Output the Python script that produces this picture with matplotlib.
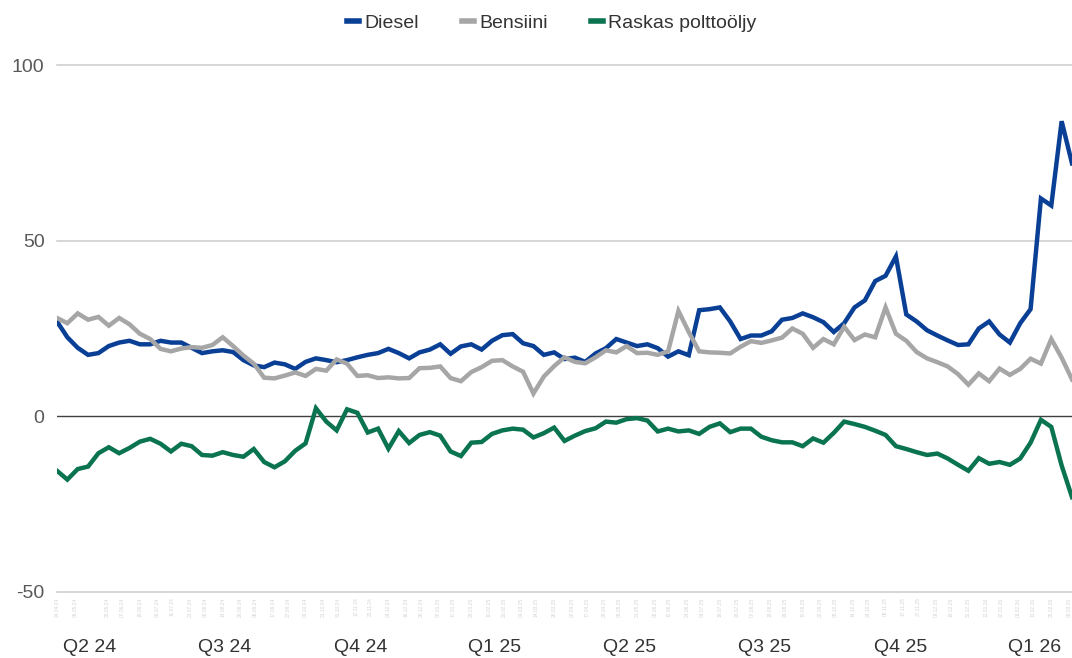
import pandas as pd
import matplotlib
matplotlib.use("Agg")
import matplotlib.pyplot as plt
from matplotlib.lines import Line2D

plt.rcParams['font.family'] = ['Liberation Sans', 'DejaVu Sans']

# weekly readings, late Apr 2024 -> mid Mar 2026
dates = pd.date_range('2024-04-24', periods=99, freq='7D')

diesel = [27, 22.5, 19.5, 17.5, 18, 20, 21, 21.5, 20.5, 20.5,
          21.5, 21, 21, 19.5, 18, 18.5, 18.8, 18.3, 16, 14.5,
          14, 15.3, 14.8, 13.5, 15.5, 16.5, 16, 15.4, 16, 16.8,
          17.5, 18, 19.2, 18, 16.5, 18.2, 19, 20.5, 17.8, 19.9,
          20.5, 19, 21.5, 23.1, 23.4, 20.8, 20, 17.5, 18.2, 16.3,
          16.7, 15.5, 17.9, 19.4, 22, 21, 20, 20.5, 19.4, 17,
          18.5, 17.4, 30.2, 30.5, 31, 27, 22, 23, 23, 24.2,
          27.5, 28, 29.3, 28.2, 26.8, 24, 26.5, 31, 33, 38.5,
          40, 45.5, 29, 27, 24.5, 23, 21.6, 20.3, 20.5, 25,
          27, 23.3, 21, 26.5, 30.5, 62, 60, 84, 72]

bensiini = [28, 26.5, 29.3, 27.5, 28.3, 25.8, 28, 26.2, 23.5, 22,
            19.2, 18.5, 19.3, 19.7, 19.5, 20.3, 22.5, 20, 17.3, 15,
            11, 10.8, 11.6, 12.5, 11.5, 13.5, 13, 16.2, 15, 11.5,
            11.7, 10.9, 11.1, 10.8, 10.9, 13.7, 13.8, 14.2, 10.9, 10,
            12.6, 14, 15.8, 16, 14.2, 12.7, 6.5, 11.3, 14.3, 16.8,
            15.5, 15.1, 16.8, 18.8, 18.2, 20, 18, 18.1, 17.5, 18.5,
            30, 24, 18.5, 18.2, 18.1, 17.9, 19.8, 21.4, 20.9, 21.6,
            22.4, 25, 23.5, 19.5, 22, 20.5, 25.5, 21.7, 23.3, 22.5,
            31, 23.5, 21.5, 18.3, 16.5, 15.4, 14.2, 12, 9, 12.2,
            10, 13.6, 11.8, 13.5, 16.4, 15, 22, 16.7, 10.5]

raskas = [-15.5, -18, -15, -14.3, -10.5, -8.8, -10.5, -9, -7.2, -6.4,
          -7.8, -10, -7.8, -8.5, -11, -11.2, -10.2, -11, -11.5, -9.3,
          -13, -14.5, -12.8, -9.8, -7.7, 2.3, -1.5, -4, 2, 1,
          -4.6, -3.5, -9.2, -4.2, -7.6, -5.3, -4.5, -5.5, -10, -11.3,
          -7.5, -7.3, -5, -4, -3.5, -3.8, -6, -4.8, -3.2, -7,
          -5.5, -4.2, -3.4, -1.5, -1.8, -0.8, -0.5, -1.2, -4.3, -3.5,
          -4.3, -4, -5, -3, -2, -4.5, -3.5, -3.5, -5.8, -6.8,
          -7.4, -7.4, -8.5, -6.3, -7.5, -4.7, -1.5, -2.2, -3, -4.1,
          -5.3, -8.5, -9.3, -10.2, -11, -10.6, -12, -13.8, -15.5, -11.9,
          -13.5, -13, -13.8, -12, -7.5, -1, -3, -14, -23]

series_names = ['Diesel', 'Bensiini', 'Raskas polttoöljy']
series_colors = ['#0a3f96', '#a6a6a6', '#0a7350']

quarter_labels = ['Q2 24', 'Q3 24', 'Q4 24', 'Q1 25', 'Q2 25', 'Q3 25', 'Q4 25', 'Q1 26']
quarter_mid = pd.to_datetime(['2024-05-16', '2024-08-15', '2024-11-15', '2025-02-14',
                              '2025-05-16', '2025-08-15', '2025-11-15', '2026-02-14'])

fig = plt.figure(figsize=(10.72, 6.58), dpi=100)
ax = fig.add_axes([57 / 1072, 1 - 592 / 658, 1 - 57 / 1072, (592 - 65) / 658])

#gridlines first so lines sit on top
for yv in [100, 50, -50]:
    ax.axhline(yv, color='#cccccc', lw=1.1, zorder=1, clip_on=False)
ax.axhline(0, color='#404040', lw=1.0, zorder=2)

for vals, name, col in zip([diesel, bensiini, raskas], series_names, series_colors):
    ax.plot(dates, vals, color=col, lw=3.2, solid_joinstyle='miter', zorder=3, label=name)

ax.set_xlim(dates[0], dates[-1])
ax.set_ylim(-50, 100)
ax.set_yticks([100, 50, 0, -50])
ax.set_yticklabels(['100', '50', '0', '-50'])

for s in ax.spines.values():
    s.set_visible(False)

ax.tick_params(axis='y', length=0, pad=9, labelsize=14, labelcolor='#595959')

# quarter labels in the middle of each quarter
ax.set_xticks(quarter_mid)
ax.set_xticklabels(quarter_labels)
ax.tick_params(axis='x', which='major', length=0, pad=34, labelsize=14, labelcolor='#333333')

# faint rotated date labels right under the axis
minor_pos = pd.bdate_range(dates[0], dates[-1])[::8]
ax.set_xticks(minor_pos, minor=True)
ax.set_xticklabels([d.strftime('%d.%m.%y') for d in minor_pos], minor=True,
                   rotation=90, fontsize=3.5, color='#d4d4d4')
ax.tick_params(axis='x', which='minor', length=0, pad=4)

handles = [Line2D([0], [0], color=c, lw=4) for c in series_colors]
fig.legend(handles, series_names, loc='upper center', bbox_to_anchor=(552 / 1072, 1.005),
           ncol=3, frameon=False, fontsize=14, handlelength=0.6, handletextpad=0.3,
           columnspacing=2.2, labelcolor='#333333')

fig.savefig('out.png', dpi=100)
